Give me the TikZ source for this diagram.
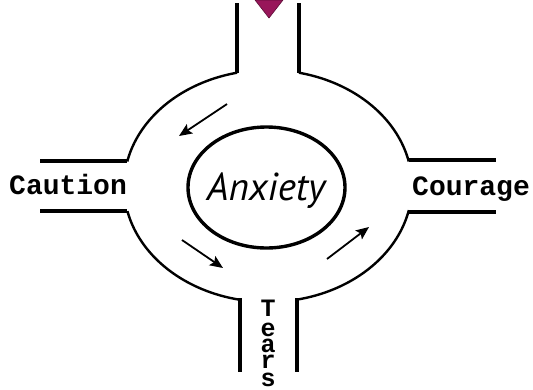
\documentclass[tikz,border=0pt]{standalone}
\usepackage{fontspec}
\setmonofont{Liberation Mono}
\newfontfamily\anxfont{PT Sans}
\usetikzlibrary{arrows.meta,shapes.geometric}
\definecolor{plum}{RGB}{152,22,90}
\tikzset{
  road/.style={line width=3.2pt},
  ringarc/.style={line width=2.4pt},
  flow/.style={line width=1.8pt,-{Stealth[length=13pt,width=11pt,inset=2.5pt]}},
  exitlabel/.style={font=\ttfamily\bfseries\fontsize{28}{30}\selectfont,inner sep=0pt,anchor=base west},
  tearletter/.style={font=\ttfamily\bfseries\fontsize{25}{27}\selectfont,inner sep=0pt,anchor=base}
}
\begin{document}
\begin{tikzpicture}[x=1pt,y=-1pt]
\useasboundingbox (0,0) rectangle (533,389);
% top road
\draw[road] (237,3) -- (237,73);
\draw[road] (299,3) -- (299,73);
% left road
\draw[road] (40,161) -- (127,161);
\draw[road] (40,211) -- (127,211);
% right road
\draw[road] (409,160) -- (496,160);
\draw[road] (409,212) -- (496,212);
% bottom road
\draw[road] (240,298) -- (240,372);
\draw[road] (297,298) -- (297,372);
% ring arcs
\draw[ringarc] plot[domain=102.4:167.8,samples=50] ({268+144*cos(\x)},{186-116*sin(\x)});
\draw[ringarc] plot[domain=12.2:77.6,samples=50] ({268+144*cos(\x)},{186-116*sin(\x)});
\draw[ringarc] plot[domain=192.5:259,samples=50] ({268+144*cos(\x)},{186-116*sin(\x)});
\draw[ringarc] plot[domain=281:348,samples=50] ({268+144*cos(\x)},{186-116*sin(\x)});
% triangle
\draw[fill=plum,draw=plum!60!black,line width=0.6pt] (255,0) -- (283,0) -- (269,18) -- cycle;
% centre
\node[ellipse,draw,line width=3.4pt,minimum width=157pt,minimum height=121pt,inner sep=0pt] (hub) at (266.5,187.5) {};
\node[font=\anxfont\itshape\fontsize{39}{42}\selectfont,inner sep=0pt,anchor=base] (anx) at (266,200) {Anxiety};
% labels
\node[exitlabel] (caution) at (9,194) {Caution};
\node[exitlabel] (courage) at (412,195) {Courage};
\node[tearletter] (t1) at (268,316) {T};
\node[tearletter] (t2) at (268,336) {e};
\node[tearletter] (t3) at (268,352) {a};
\node[tearletter] (t4) at (268,368) {r};
\node[tearletter] (t5) at (268,386) {s};
% flow arrows
\coordinate (a1s) at (227,104); \coordinate (a1e) at (179,136);
\coordinate (a2s) at (182,240); \coordinate (a2e) at (223,268);
\coordinate (a3s) at (327,259); \coordinate (a3e) at (369,227);
\draw[flow] (a1s) -- (a1e);
\draw[flow] (a2s) -- (a2e);
\draw[flow] (a3s) -- (a3e);
\end{tikzpicture}
\end{document}
